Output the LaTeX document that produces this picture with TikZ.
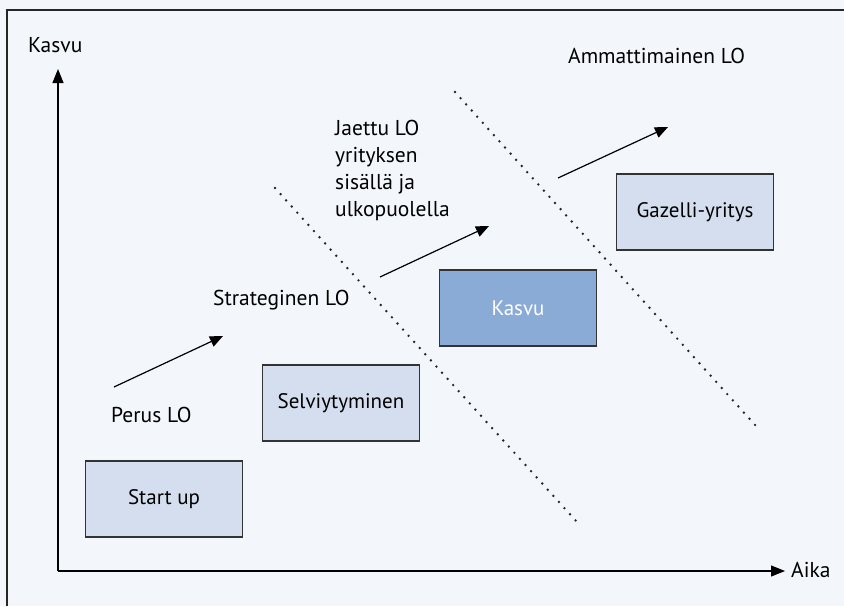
\documentclass[tikz,border=0pt]{standalone}
\usepackage{fontspec}
\setmainfont{PT Sans}
\usetikzlibrary{arrows.meta}
\definecolor{bgcol}{HTML}{F3F6FB}
\definecolor{boxcol}{HTML}{D5DEEE}
\definecolor{darkbox}{HTML}{8AABD6}
\definecolor{edgecol}{HTML}{333333}
\tikzset{
  phase/.style={draw=edgecol, line width=1.3pt, fill=boxcol, minimum width=157pt,
    minimum height=76pt, inner sep=0pt, font=\fontsize{21}{24}\selectfont},
  label/.style={anchor=base west, inner sep=0pt, font=\fontsize{21.5}{24}\selectfont},
  trend/.style={line width=1.2pt, -{Triangle[length=13pt,width=11pt]}},
  axis/.style={line width=1.2pt, -{Triangle[length=14pt,width=11pt]}},
  border/.style={draw=black!85, line width=2.7pt, line cap=round,
    dash pattern=on 0pt off 8.3pt}
}
\begin{document}
\begin{tikzpicture}[x=1pt, y=-1pt]
  % canvas and frame
  \fill[bgcol] (0,0) rectangle (844,606);
  \useasboundingbox (0,0) rectangle (844,606);
  \draw[black!85, line width=1.6pt] (7,606) -- (7,10) -- (844,10);

  % axes
  \coordinate (origin) at (58,571);
  \coordinate (ytip) at (58,69);
  \coordinate (xtip) at (785,571);
  \draw[axis] (origin) -- (ytip);
  \draw[axis] (origin) -- (xtip);
  \node[label] (ylab) at (28,52) {Kasvu};
  \node[label] (xlab) at (791,577) {Aika};

  % phase boxes
  \node[phase] (start) at (164,499) {Start up};
  \node[phase] (selv) at (341,403) {Selviytyminen};
  \node[phase, fill=darkbox, text=white] (kasvu) at (518,308) {Kasvu};
  \node[phase] (gaz) at (695,212) {Gazelli-yritys};

  % learning levels
  \node[label] (perus) at (111,422) {Perus LO};
  \node[label] (strat) at (213,305) {Strateginen LO};
  \node[label, align=left, anchor=north west, font=\fontsize{21.5}{27}\selectfont]
    (jaettu) at (335,119.5) {Jaettu LO\\yrityksen\\sisällä ja\\ulkopuolella};
  \node[label] (amm) at (568,63) {Ammattimainen LO};

  % growth arrows
  \coordinate (a1s) at (114,387);
  \coordinate (a1e) at (223,336);
  \coordinate (a2s) at (380,277);
  \coordinate (a2e) at (489,226);
  \coordinate (a3s) at (558,178);
  \coordinate (a3e) at (668,127);
  \draw[trend] (a1s) -- (a1e);
  \draw[trend] (a2s) -- (a2e);
  \draw[trend] (a3s) -- (a3e);

  % stage boundaries
  \coordinate (b1s) at (275,188);
  \coordinate (b1e) at (577,522);
  \coordinate (b2s) at (455,92);
  \coordinate (b2e) at (756,426);
  \draw[border] (b1s) -- (b1e);
  \draw[border] (b2s) -- (b2e);
\end{tikzpicture}
\end{document}
